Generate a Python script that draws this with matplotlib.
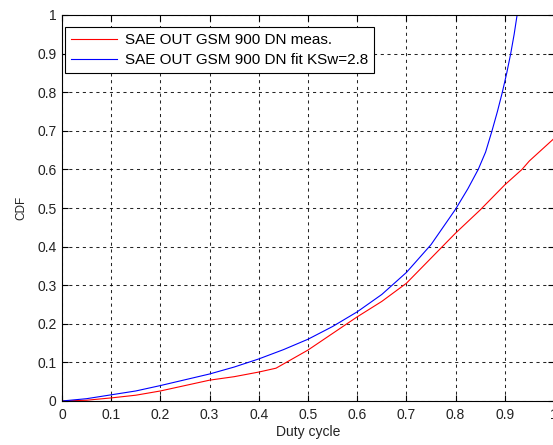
import matplotlib
matplotlib.use("Agg")
import matplotlib.pyplot as plt
import numpy as np

plt.rcParams['font.family'] = ['Liberation Sans', 'DejaVu Sans']

meas_x = [0.0, 0.05, 0.1, 0.15, 0.2, 0.25, 0.3, 0.35, 0.4, 0.435, 0.5, 0.55, 0.6,
          0.65, 0.7, 0.75, 0.8, 0.85, 0.9, 0.935, 0.95, 1.0]
meas_y = [0.0, 0.002, 0.008, 0.015, 0.026, 0.04, 0.054, 0.063, 0.075, 0.085, 0.132,
          0.175, 0.218, 0.258, 0.305, 0.37, 0.435, 0.495, 0.56, 0.6, 0.622, 0.68]

fit_x = [0.0, 0.05, 0.1, 0.15, 0.2, 0.25, 0.3, 0.35, 0.4, 0.45, 0.5, 0.55, 0.6,
         0.65, 0.7, 0.75, 0.8, 0.825, 0.846, 0.861, 0.874, 0.885, 0.895, 0.904,
         0.912, 0.919, 0.925]
fit_y = [0.0, 0.006, 0.016, 0.026, 0.04, 0.055, 0.07, 0.088, 0.109, 0.133, 0.16,
         0.193, 0.231, 0.276, 0.333, 0.405, 0.497, 0.55, 0.6, 0.645, 0.7, 0.75, 0.8,
         0.85, 0.9, 0.95, 1.0]

labels = ["SAE OUT GSM 900 DN meas.", "SAE OUT GSM 900 DN fit KSw=2.8"]
xticks = [0, 0.1, 0.2, 0.3, 0.4, 0.5, 0.6, 0.7, 0.8, 0.9, 1]
xticklabels = ["0", "0.1", "0.2", "0.3", "0.4", "0.5", "0.6", "0.7", "0.8", "0.9", "1"]
yticks = [0, 0.1, 0.2, 0.3, 0.4, 0.5, 0.6, 0.7, 0.8, 0.9, 1]
yticklabels = ["0", "0.1", "0.2", "0.3", "0.4", "0.5", "0.6", "0.7", "0.8", "0.9", "1"]

W, H = 553, 445
fig = plt.figure(figsize=(W / 100, H / 100), dpi=100)
left, right, top, bottom = 62, 554, 15, 401
ax = fig.add_axes([left / W, (H - bottom) / H, (right - left) / W, (bottom - top) / H])

ax.plot(meas_x, meas_y, color=(1, 0, 0), lw=0.8, label=labels[0])
ax.plot(fit_x, fit_y, color=(0, 0, 1), lw=0.8, label=labels[1])

ax.set_xlim(0, 1)
ax.set_ylim(0, 1)
ax.set_xticks(xticks)
ax.set_xticklabels(xticklabels)
ax.set_yticks(yticks)
ax.set_yticklabels(yticklabels)
ax.tick_params(direction='in', length=4, width=0.8, labelsize=10, top=True, right=True,
               colors='black')
ax.tick_params(axis='x', pad=5)
ax.tick_params(axis='y', pad=4)
for lab in ax.get_xticklabels() + ax.get_yticklabels():
    lab.set_color('#222222')
ax.grid(True, color='black', linestyle=(0, (3, 3.5)), linewidth=0.75, alpha=0.85)
for s in ax.spines.values():
    s.set_linewidth(0.8)
    s.set_color('black')

ax.set_xlabel("Duty cycle", fontsize=10, labelpad=2, color='#222222')
ax.set_ylabel("CDF", fontsize=8.5, labelpad=7, color='#222222')

leg = ax.legend(loc='upper left', bbox_to_anchor=(0.006, 0.969), borderaxespad=0,
                fontsize=11, handlelength=3.0, handletextpad=0.5, fancybox=False,
                framealpha=1, edgecolor='black', borderpad=0.4, labelspacing=0.4)
leg.get_frame().set_linewidth(0.8)

fig.savefig("out.png", dpi=100)
